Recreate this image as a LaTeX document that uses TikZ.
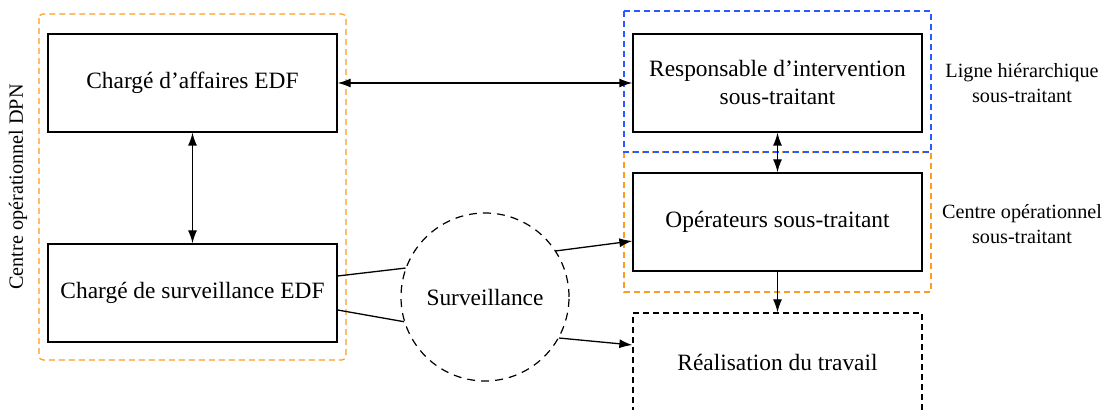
\documentclass[tikz,border=0pt]{standalone}
\usepackage{fontspec}
\setmainfont{Liberation Serif}
\usetikzlibrary{arrows.meta}
\definecolor{grouporange}{RGB}{255,155,30}
\definecolor{groupblue}{RGB}{40,90,255}

\begin{document}
\begin{tikzpicture}[x=0.5pt,y=-0.5pt,
                box/.style={rectangle,draw,line width=0.65pt,minimum width=144.5pt,minimum height=49pt,inner sep=0pt,align=center,font=\fontsize{11.7}{14}\selectfont},
                dashbox/.style={box,dash pattern=on 3pt off 2pt},
                frame/.style={line width=0.6pt,dash pattern=on 3pt off 2pt},
                sidetext/.style={align=center,font=\fontsize{10.1}{12.5}\selectfont},
                link/.style={line width=0.65pt},
                >={Latex[length=6.5pt,width=4.5pt]}]
                \useasboundingbox (0,0) rectangle (1107,410);

                \draw[frame,grouporange,rounded corners=2pt] (39,14) rectangle (346,360);
                \draw[frame,grouporange] (624,152) rectangle (931,292);
                \draw[frame,groupblue] (624,11) rectangle (931,152);

                \node (ca) at (192.5,83) [box] {Chargé d’affaires EDF};
                \node (cs) at (192.5,293) [box] {Chargé de surveillance EDF};
                \node (ri) at (777.5,83) [box] {Responsable d’intervention\\sous-traitant};
                \node (op) at (777.5,222) [box] {Opérateurs sous-traitant};
                \node (rt) at (777.5,362) [dashbox] {Réalisation du travail};
                \node (surv) at (485,297) [circle,draw,dash pattern=on 4pt off 3pt,line width=0.6pt,minimum size=84pt,inner sep=0pt,font=\fontsize{11.7}{14}\selectfont] {Surveillance};

                \node (dpn) at (18,187) [sidetext,rotate=90] {Centre opérationnel DPN};
                \node (lh) at (1022,83) [sidetext] {Ligne hiérarchique\\sous-traitant};
                \node (co) at (1022,224) [sidetext] {Centre opérationnel\\sous-traitant};

                \draw[link,<->] (ca.east) -- (ri.west);
                \draw[link,<->] (ca.south) -- (cs.north);
                \draw[link,<->] (ri.south) -- (op.north);
                \draw[link,->] (op.south) -- (rt.north);
                \draw[link] ([yshift=8.5pt]cs.east) -- (surv.160);
                \draw[link] ([yshift=-8.5pt]cs.east) -- (surv.197);
                \draw[link,->] (surv.33) -- ([yshift=-9.5pt]op.west);
                \draw[link,->] (surv.-29) -- ([yshift=8.5pt]rt.west);
\end{tikzpicture}
\end{document}
